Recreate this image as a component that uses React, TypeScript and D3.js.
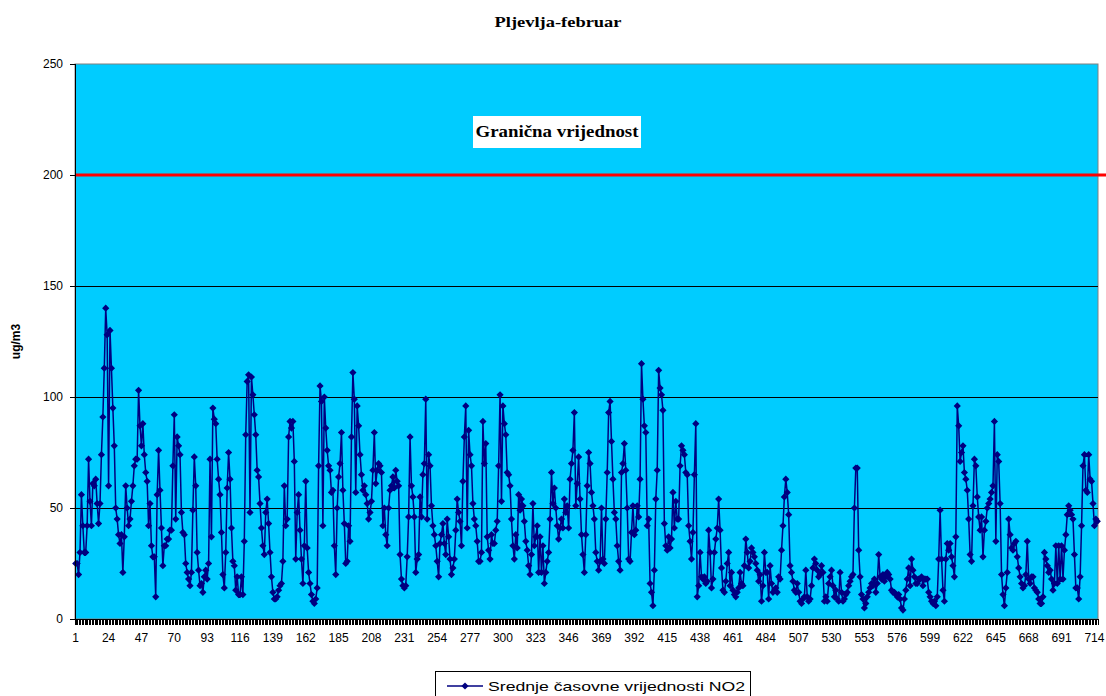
import React from 'react';
import * as d3 from 'd3';

// Hourly NO2 values (ug/m3) in segments
const no2Part01 = [25, 25, 20, 30, 56, 42, 30, 30, 42, 72, 53, 42, 61, 60, 63, 52, 43, 52, 74, 91, 113, 140, 128, 60, 130, 113, 95, 78, 50, 45, 38, 34, 38, 21, 37, 60, 50, 42, 45, 53, 60, 69, 72, 72, 103, 87, 78, 88, 74, 66, 62, 42, 52, 33, 28, 28, 10, 56, 76, 58];
const no2Part02 = [41, 24, 33, 33, 36, 36, 40, 40, 69, 92, 45, 82, 78, 74, 48, 39, 38, 25, 21, 18, 15, 21, 49, 73, 60, 30, 22, 15, 16, 12, 19, 22, 18, 25, 72, 37, 95, 90, 88, 72, 63, 56, 39, 20, 14, 30, 59, 75, 63, 41, 26, 24, 13, 19, 11, 11, 19, 11, 35, 83, 107, 110, 48, 109, 101, 92];
const no2Part03 = [83, 67, 64, 52, 41, 33, 29, 48, 54, 43, 30, 19, 12, 9, 9, 10, 13, 15, 16, 26, 60, 42, 45, 82, 89, 86, 89, 71, 27, 48, 56, 40, 27, 16, 33, 62, 32, 21, 16, 11, 8, 7, 9, 14, 69, 105, 98, 42, 100, 86, 76, 69, 67, 57, 58, 33, 20, 50, 64, 70, 84, 58, 43, 25, 26, 42];
const no2Part04 = [35, 82, 111, 99, 57, 96, 87, 74, 65, 58, 60, 56, 52, 45, 48, 53, 67, 84, 61, 67, 70, 69, 66, 42, 50, 38, 33, 50, 58, 60, 64, 59, 67, 62, 60, 29, 18, 15, 14, 15, 28, 46, 82, 60, 55, 46, 21, 27, 29, 55, 46, 65, 70, 99, 45, 74, 69, 51, 42, 38, 33, 26, 19, 34, 38, 43];
const no2Part05 = [34, 29, 45, 37, 27, 20, 23, 27, 40, 54, 48, 44, 33, 62, 82, 96, 41, 85, 74, 69, 52, 45, 42, 35, 26, 26, 30, 89, 70, 79, 37, 31, 27, 38, 34, 34, 40, 44, 69, 101, 53, 96, 88, 83, 66, 65, 60, 45, 33, 27, 38, 32, 56, 49, 54, 51, 44, 35, 31, 24, 20, 29, 52, 33, 37, 42, 21];
const no2Part06 = [37, 21, 33, 16, 21, 26, 30, 45, 66, 52, 59, 50, 42, 36, 41, 45, 41, 54, 48, 51, 41, 63, 70, 76, 93, 51, 61, 73, 54, 38, 29, 21, 38, 60, 75, 70, 57, 51, 45, 30, 26, 22, 26, 50, 27, 25, 45, 66, 93, 98, 80, 63, 48, 45, 33, 26, 22, 66, 70, 79, 67, 50, 27, 26, 39, 51];
const no2Part07 = [38, 40, 51, 46, 63, 115, 99, 87, 84, 42, 45, 16, 12, 6, 22, 54, 67, 112, 104, 101, 94, 43, 33, 31, 37, 32, 36, 57, 41, 53, 45, 45, 69, 78, 76, 74, 66, 65, 42, 35, 27, 39, 65, 88, 10, 15, 30, 19, 18, 19, 16, 17, 40, 30, 14, 18, 30, 36, 41, 54, 40, 23, 13, 12, 17, 25, 30];
const no2Part08 = [15, 21, 13, 11, 10, 12, 14, 21, 16, 15, 24, 36, 30, 23, 26, 32, 30, 28, 25, 22, 17, 20, 8, 15, 30, 21, 21, 9, 24, 16, 12, 13, 14, 12, 19, 18, 31, 42, 55, 63, 57, 47, 24, 21, 17, 13, 12, 16, 12, 8, 7, 9, 10, 22, 10, 8, 9, 15, 23, 27, 25, 22, 19, 20, 24, 21];
const no2Part09 = [8, 10, 8, 16, 19, 22, 15, 10, 13, 9, 8, 21, 12, 8, 9, 11, 12, 15, 17, 19, 20, 50, 68, 68, 31, 19, 11, 9, 5, 7, 10, 12, 14, 16, 15, 18, 12, 16, 29, 19, 18, 20, 17, 19, 21, 20, 18, 13, 12, 12, 11, 10, 11, 9, 5, 4, 9, 13, 18, 23, 15, 27, 22, 19, 16, 16, 18];
const no2Part10 = [18, 19, 15, 18, 18, 18, 12, 10, 8, 7, 8, 6, 10, 27, 49, 27, 13, 8, 27, 34, 31, 34, 28, 24, 19, 37, 96, 87, 71, 75, 78, 66, 63, 58, 45, 29, 26, 51, 72, 69, 55, 46, 40, 46, 28, 40, 44, 50, 52, 54, 57, 60, 89, 35, 74, 71, 52, 20, 11, 6, 14, 21, 45, 38, 32, 31];
const no2Part11 = [34, 35, 28, 23, 19, 16, 14, 15, 20, 35, 18, 16, 19, 19, 14, 13, 12, 9, 7, 7, 10, 30, 27, 24, 21, 22, 18, 13, 16, 33, 16, 33, 18, 33, 18, 31, 38, 47, 51, 49, 47, 45, 29, 14, 14, 9, 19, 42, 69, 74, 58, 57, 74, 63, 62, 52, 42, 45, 44];

const no2Values: number[] = [
  ...no2Part01, ...no2Part02, ...no2Part03, ...no2Part04, ...no2Part05, ...no2Part06,
  ...no2Part07, ...no2Part08, ...no2Part09, ...no2Part10, ...no2Part11,
];

const yTickValues = [0, 50, 100, 150, 200, 250];
const gridValues = [50, 100, 150];
const limitValue = 200;
const xLabelStep = 23;
const chartTitle = 'Pljevlja-februar';
const yAxisTitle = 'ug/m3';
const limitLabel = 'Granična vrijednost';
const seriesName = 'Srednje časovne vrijednosti NO2';

const SANS = '"Liberation Sans", Arial, sans-serif';
const SERIF = '"Liberation Serif", "Times New Roman", serif';
const NAVY = '#000080';

const diamond = (cx: number, cy: number, r: number) =>
  `M${cx},${cy - r}L${cx + r},${cy}L${cx},${cy + r}L${cx - r},${cy}Z`;

export default function App() {
  const W = 1106;
  const H = 696;
  const left = 75;
  const right = 1098;
  const top = 64;
  const bottom = 619;
  const n = no2Values.length;

  const x = d3.scaleLinear().domain([0, n]).range([left, right]);
  const y = d3.scaleLinear().domain([0, 250]).range([bottom, top]);

  const linePath = d3
    .line<number>()
    .x((_, i) => x(i + 0.5))
    .y((d) => y(d))(no2Values) || '';

  const labelIdx: number[] = [];
  for (let i = 0; i < n; i += xLabelStep) labelIdx.push(i);
  const tickIdx: number[] = d3.range(0, n + 1);

  const markers = no2Values.map((d, i) => diamond(x(i + 0.5), y(d), 3.6)).join('');

  return (
    <svg
      width={W}
      height={H}
      style={{ position: 'absolute', left: 0, top: 0, background: '#fff' }}
    >
      <text
        x={558}
        y={27}
        textAnchor="middle"
        fontFamily={SERIF}
        fontWeight="bold"
        fontSize={14}
        textLength={127}
        lengthAdjust="spacingAndGlyphs"
      >
        {chartTitle}
      </text>

      {/* plot area */}
      <rect x={left} y={top} width={right - left} height={bottom - top} fill="#00CCFF" stroke="#808080" strokeWidth={1} />

      {gridValues.map((v) => (
        <line key={v} x1={left} x2={right} y1={y(v)} y2={y(v)} stroke="#000" strokeWidth={1} shapeRendering="crispEdges" />
      ))}

      {/* limit line */}
      <line x1={left} x2={W} y1={y(limitValue)} y2={y(limitValue)} stroke="#FF0000" strokeWidth={3} />

      {/* limit label box */}
      <rect x={473} y={116} width={168} height={32} fill="#fff" />
      <text
        x={557}
        y={137}
        textAnchor="middle"
        fontFamily={SERIF}
        fontWeight="bold"
        fontSize={16}
        textLength={163}
        lengthAdjust="spacingAndGlyphs"
      >
        {limitLabel}
      </text>

      {/* series */}
      <path d={linePath} fill="none" stroke={NAVY} strokeWidth={1.5} />
      <path d={markers} fill={NAVY} stroke="none" />

      {/* y axis */}
      <line x1={left} x2={left} y1={top} y2={bottom} stroke="#000" strokeWidth={1} shapeRendering="crispEdges" />
      {yTickValues.map((v) => (
        <g key={v}>
          <line x1={left - 5} x2={left} y1={y(v)} y2={y(v)} stroke="#000" shapeRendering="crispEdges" />
          <text x={left - 12} y={y(v) + 4} textAnchor="end" fontFamily={SANS} fontSize={12}>
            {v}
          </text>
        </g>
      ))}
      <text
        transform={`translate(20, ${(top + bottom) / 2}) rotate(-90)`}
        textAnchor="middle"
        fontFamily={SANS}
        fontWeight="bold"
        fontSize={12}
      >
        {yAxisTitle}
      </text>

      {/* x axis */}
      <line x1={left} x2={right} y1={bottom} y2={bottom} stroke="#000" strokeWidth={1} shapeRendering="crispEdges" />
      {tickIdx.map((k) => (
        <line key={k} x1={x(k)} x2={x(k)} y1={bottom} y2={bottom + 6} stroke="#000" strokeWidth={1} shapeRendering="crispEdges" />
      ))}
      {labelIdx.map((i) => (
        <text key={i} x={x(i + 0.5)} y={642} textAnchor="middle" fontFamily={SANS} fontSize={12}>
          {i + 1}
        </text>
      ))}

      {/* legend */}
      <rect x={435.5} y={671.5} width={315} height={40} fill="#fff" stroke="#000" strokeWidth={1} />
      <line x1={447} x2={483} y1={686} y2={686} stroke={NAVY} strokeWidth={1.5} />
      <path d={diamond(465, 686, 3.6)} fill={NAVY} />
      <text
        x={488}
        y={691}
        fontFamily={SANS}
        fontSize={13}
        textLength={257}
        lengthAdjust="spacingAndGlyphs"
      >
        {seriesName}
      </text>
    </svg>
  );
}
